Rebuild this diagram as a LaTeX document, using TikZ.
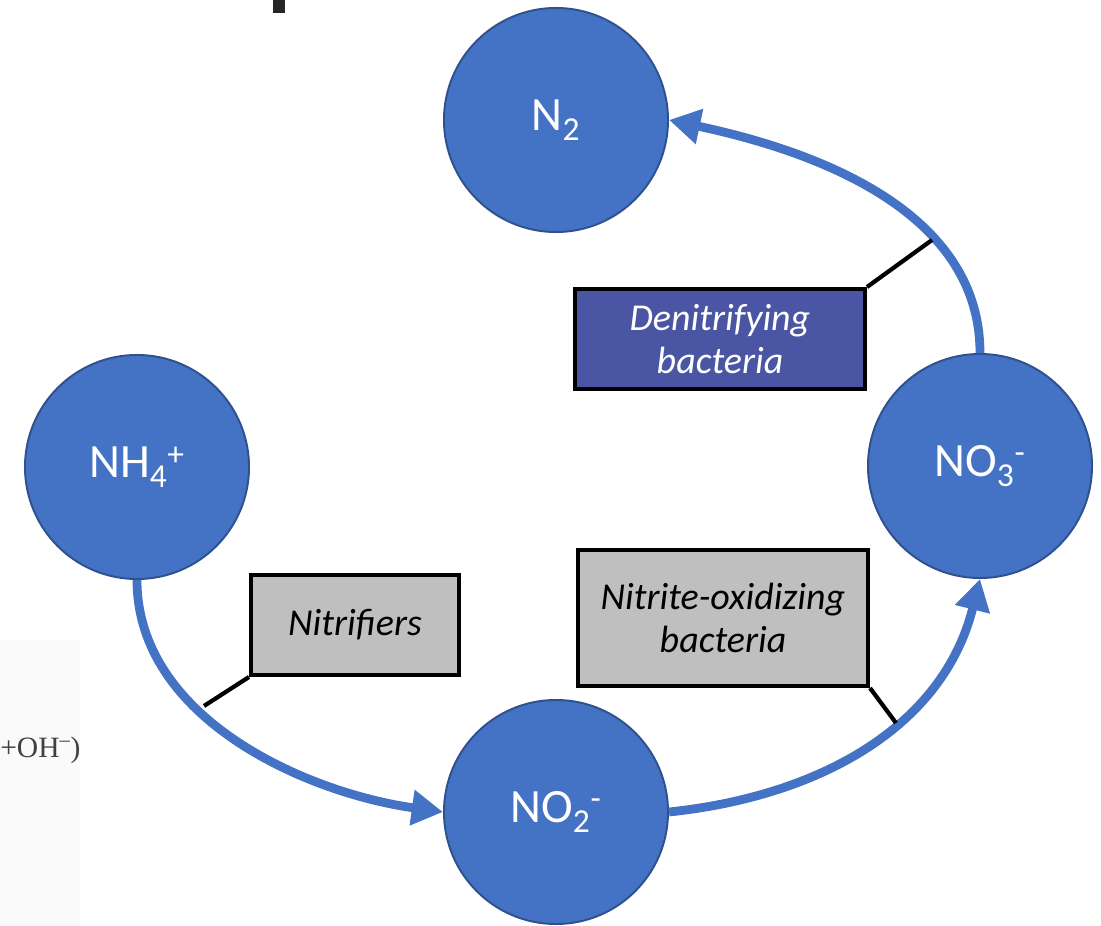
\documentclass[tikz,border=0pt]{standalone}
\usepackage{fontspec}
\setmainfont{Carlito}
\newfontfamily\scanfont{Liberation Serif}
\usetikzlibrary{arrows.meta}

\definecolor{ionblue}{HTML}{4472C4}
\definecolor{ionedge}{HTML}{2F528F}
\definecolor{denitfill}{HTML}{4A55A3}
\definecolor{boxgray}{HTML}{BFBFBF}

\begin{document}
\begin{tikzpicture}[x=0.025cm,y=-0.025cm]
\tikzstyle{ion}=[circle,fill=ionblue,draw=ionedge,line width=1.4pt,minimum size=5.6cm,inner sep=0pt,text=white,font=\fontsize{34}{40}\selectfont]
\tikzstyle{microbe}=[rectangle,draw=black,line width=2.8pt,fill=boxgray,align=center,minimum height=2.5cm,font=\fontsize{27}{31}\selectfont\itshape]
\tikzstyle{flow}=[draw=ionblue,line width=0.22cm,-{Triangle[length=0.78cm,width=0.85cm]}]
\tikzstyle{callout}=[draw=black,line width=3pt]

\useasboundingbox (0,0) rectangle (1101,926);

% bits of the page around the cut-out
\fill[black!2] (0,640) rectangle (80,926);
\fill[black!85] (273,0) rectangle (285,13);
\node[anchor=west,inner sep=0pt,text=black!75,font=\scanfont\fontsize{21}{24}\selectfont](ohfrag) at (0,750) {+OH\textsuperscript{–})};

\node[ion](ntwo) at (556,120) {N\textsubscript{2}};
\node[ion](nhfour) at (137,467) {NH\textsubscript{4}\textsuperscript{+}};
\node[ion](notwo) at (556,812) {NO\textsubscript{2}\textsuperscript{-}};
\node[ion](nothree) at (980,466) {NO\textsubscript{3}\textsuperscript{-}};

\node[microbe,fill=denitfill,text=white,minimum width=7.25cm](denit) at (720,339) {Denitrifying\\bacteria};
\node[microbe,minimum width=5.2cm](nitrif) at (355,625) {Nitrifiers};
\node[microbe,minimum width=7.25cm,minimum height=3.4cm](nob) at (723,618) {Nitrite-oxidizing\\bacteria};

\path (nhfour.south) edge[flow,out=-90,in=172,looseness=0.92] (notwo.west)
      (notwo.east) edge[flow,out=6,in=-104] (nothree.south)
      (nothree.north) edge[flow,out=90,in=-12,looseness=0.95] (ntwo.east);

\coordinate (denitpt) at (932,240);
\coordinate (nitrifpt) at (204,706);
\coordinate (nobpt) at (896,723);
\path[callout] (denit.north east) -- (denitpt)
      (nitrif.south west) -- (nitrifpt)
      (nob.south east) -- (nobpt);
\end{tikzpicture}
\end{document}
